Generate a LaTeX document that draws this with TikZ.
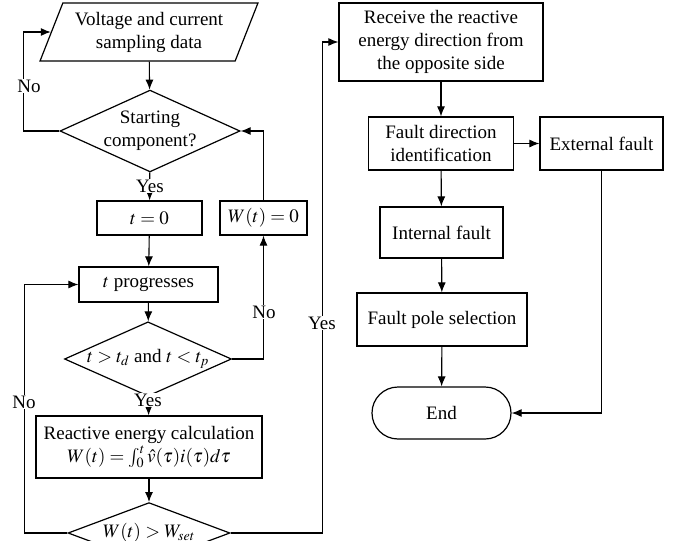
\documentclass[tikz,border=0pt]{standalone}
\usepackage{mathptmx}
\usepackage{fontspec}
\setmainfont{Liberation Serif}
\usetikzlibrary{shapes.geometric,arrows.meta}

\tikzset{
	box/.style={draw, line width=1.2pt, rectangle, align=center, inner sep=2pt},
	decide/.style={draw, line width=1.2pt, diamond, aspect=2.2, inner sep=0pt, align=center},
	io/.style={draw, line width=1.2pt, trapezium, trapezium left angle=64, trapezium right angle=116, trapezium stretches=true, align=center, inner sep=0pt},
	term/.style={draw, line width=1.2pt, rectangle, rounded corners=26pt},
	flow/.style={line width=1.1pt, -{Latex[length=10pt,width=8pt]}},
	link/.style={line width=1.1pt},
	lbl/.style={fill=white, inner sep=1pt}
}

\begin{document}
\begin{tikzpicture}[x=1pt, y=-1pt, font=\fontsize{19}{23}\selectfont]
				\useasboundingbox (0,0) rectangle (681,541);
				\node[io, minimum width=218pt, minimum height=58pt] (data) at (149,32) {Voltage and current\\sampling data};
				\node[decide, minimum width=170pt, minimum height=77pt] (start) at (150,131) {Starting\\component?};
				\node[box, minimum width=105pt, minimum height=34pt] (tzero) at (149.5,218) {$t=0$};
				\node[box, minimum width=87pt, minimum height=34pt] (wzero) at (263.5,218) {$W(t)=0$};
				\node[box, minimum width=139pt, minimum height=35pt] (prog) at (148.5,284.5) {$t$ progresses};
				\node[decide, minimum width=167pt, minimum height=52pt] (window) at (148,359) {$t>t_d$ and $t<t_p$};
				\node[box, minimum width=226pt, minimum height=62pt] (calc) at (149,447) {Reactive energy calculation\\$W(t)=\int_0^t\hat{v}(\tau)i(\tau)d\tau$};
				\node[decide, minimum width=162pt, minimum height=46pt] (comp) at (149,533) {$W(t)>W_{set}$};
				\node[box, minimum width=204pt, minimum height=78pt] (recv) at (441,42) {Receive the reactive\\energy direction from\\the opposite side};
				\node[box, minimum width=145pt, minimum height=53pt] (dir) at (441,143.5) {Fault direction\\identification};
				\node[box, minimum width=123pt, minimum height=53pt] (ext) at (601.5,143.5) {External fault};
				\node[box, minimum width=123pt, minimum height=51pt] (intl) at (441.5,232.5) {Internal fault};
				\node[box, minimum width=170pt, minimum height=53pt] (pole) at (442,319.5) {Fault pole selection};
				\node[term, minimum width=139pt, minimum height=52pt] (end) at (441.5,413) {End};

				\draw[flow] (data) -- (start);
				\draw[flow] (start.west) -- ++(-36,0) |- (data.west);
				\draw[flow] (start) -- (tzero);
				\draw[flow] (tzero) -- (prog);
				\draw[flow] (prog) -- (window);
				\draw[flow] (window.east) -| (wzero.south);
				\draw[flow] (wzero.north) |- (start.east);
				\draw[flow] (window) -- (calc);
				\draw[flow] (calc) -- (comp);
				\draw[flow] (comp.west) -- ++(-43,0) |- (prog.west);
				\draw[flow] (comp.east) -- ++(92,0) |- (recv.west);
				\draw[flow] (recv) -- (dir);
				\draw[flow] (dir) -- (ext);
				\draw[flow] (dir) -- (intl);
				\draw[flow] (intl) -- (pole);
				\draw[flow] (pole) -- (end);
				\draw[flow] (ext.south) |- (end.east);

				\node[lbl] (no1) at (29,86) {No};
				\node[lbl] (yes1) at (150,186) {Yes};
				\node[lbl] (no2) at (264,312) {No};
				\node[lbl] (yes2) at (148,400) {Yes};
				\node[lbl] (no3) at (24,402) {No};
				\node[lbl] (yes3) at (322,323) {Yes};
\end{tikzpicture}
\end{document}
